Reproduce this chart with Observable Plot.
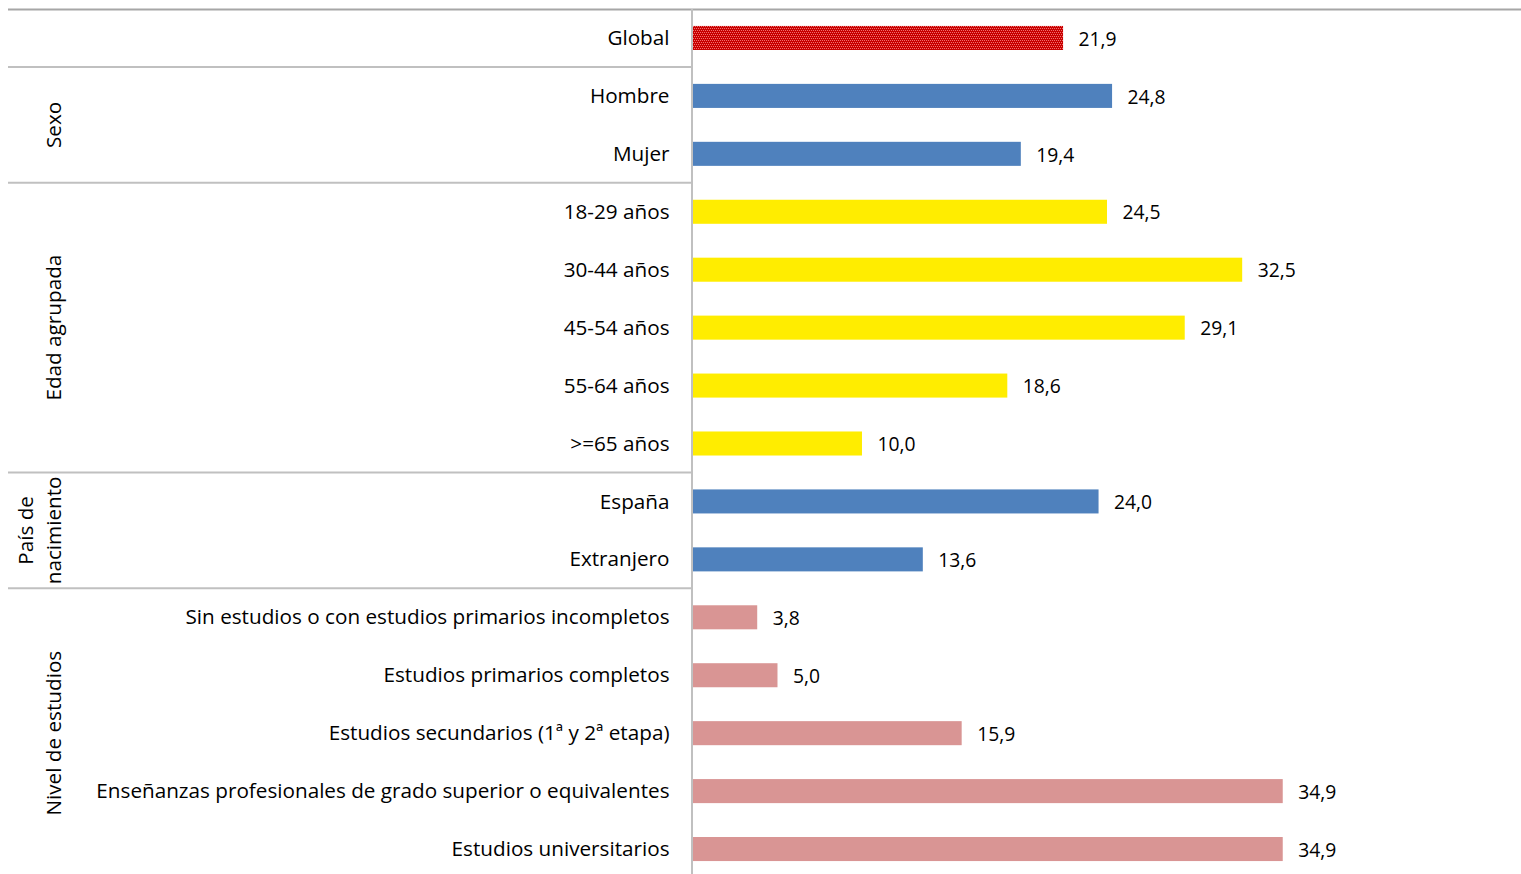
<!DOCTYPE html>
<html><head><meta charset="utf-8">
<script src="https://cdn.jsdelivr.net/npm/d3@7"></script>
<script src="https://cdn.jsdelivr.net/npm/@observablehq/plot@0.6"></script>
<style>
html,body{margin:0;padding:0;background:#fff;overflow:hidden}
</style></head>
<body><div id="chart"></div>
<script>
const categories = ["Global","Hombre","Mujer","18-29 años","30-44 años","45-54 años","55-64 años",">=65 años","España","Extranjero","Sin estudios o con estudios primarios incompletos","Estudios primarios completos","Estudios secundarios (1ª y 2ª etapa)","Enseñanzas profesionales de grado superior o equivalentes","Estudios universitarios"];
const values = [21.9,24.8,19.4,24.5,32.5,29.1,18.6,10.0,24.0,13.6,3.8,5.0,15.9,34.9,34.9];
const groups = ["Global","Sexo","Sexo","Edad agrupada","Edad agrupada","Edad agrupada","Edad agrupada","Edad agrupada","País de nacimiento","País de nacimiento","Nivel de estudios","Nivel de estudios","Nivel de estudios","Nivel de estudios","Nivel de estudios"];
const groupLabels = [
  {group:"Sexo", lines:["Sexo"]},
  {group:"Edad agrupada", lines:["Edad agrupada"]},
  {group:"País de nacimiento", lines:["País de","nacimiento"]},
  {group:"Nivel de estudios", lines:["Nivel de estudios"]}
];
const groupColors = {"Global":"url(#globalPat)","Sexo":"#4F81BD","Edad agrupada":"#FFED00","País de nacimiento":"#4F81BD","Nivel de estudios":"#D99594"};

const data = categories.map((c,i)=>({cat:c, value:values[i], group:groups[i], color:groupColors[groups[i]]}));
const fmt = v => v.toFixed(1).replace(".", ",");
const FONT = "'Open Sans', sans-serif";

const W = 1521, H = 874;
const plot = Plot.plot({
  width: W, height: H,
  marginLeft: 693, marginRight: 0, marginTop: 9, marginBottom: 0,
  style: {fontFamily: FONT, background: "#fff"},
  x: {domain:[0,49], range:[693,1521], axis:null},
  y: {domain: categories, range:[9,878], paddingInner:0.585, paddingOuter:0.2925, round:false, label:null},
  color: {type:"identity"},
  marks: [
    Plot.barX(data, {y:"cat", x:"value", fill:"color"}),
    Plot.text(data, {y:"cat", x:"value", text:d=>fmt(d.value), dx:15, dy:1, textAnchor:"start", fontSize:19.3, fill:"#000"}),
    Plot.axisY({tickSize:0, tickPadding:24, fontSize:20.7, anchor:"left", label:null})
  ]
});

const svg = d3.select(plot);
svg.style("overflow","visible");
const defs = svg.insert("defs",":first-child");
const pat = defs.append("pattern").attr("id","globalPat").attr("patternUnits","userSpaceOnUse").attr("width",4).attr("height",4);
pat.append("rect").attr("width",4).attr("height",4).attr("fill","#C80000");
[[0,0],[2,0],[1,2],[3,2]].forEach(([px,py]) => pat.append("rect").attr("x",px).attr("y",py).attr("width",1).attr("height",1).attr("fill","#F07070"));
svg.selectAll("text").attr("fill","#000").style("fill","#000");

// band geometry from Plot's y scale
const yd = plot.scale("y");
const band = d3.scaleBand().domain(yd.domain).range(yd.range).paddingInner(yd.paddingInner ?? 0.585).paddingOuter(yd.paddingOuter ?? 0.2925);
const step = band.step();
const rowTop = c => band(c) - (step - band.bandwidth())/2;
const xd = plot.scale("x");
const x0 = xd.range[0];

const g = svg.append("g");
g.append("line").attr("x1",8).attr("x2",W).attr("y1",rowTop(categories[0])+0.5).attr("y2",rowTop(categories[0])+0.5).attr("stroke","#A6A6A6").attr("stroke-width",2);
const firsts = [...new Set(groups)].slice(1).map(gr => categories[groups.indexOf(gr)]);
firsts.forEach(c => {
  g.append("line").attr("x1",8).attr("x2",x0-1).attr("y1",rowTop(c)).attr("y2",rowTop(c)).attr("stroke","#C0C0C0").attr("stroke-width",2);
});
g.append("line").attr("x1",x0-1).attr("x2",x0-1).attr("y1",rowTop(categories[0])).attr("y2",H+5).attr("stroke","#C0C0C0").attr("stroke-width",2);
groupLabels.forEach(gl => {
  const idx = groups.map((gg,i)=>gg===gl.group?i:-1).filter(i=>i>=0);
  const y1 = rowTop(categories[idx[0]]), y2 = rowTop(categories[idx[idx.length-1]]) + step;
  const cy = (y1+y2)/2;
  const n = gl.lines.length;
  gl.lines.forEach((line,k)=>{
    const cx = 55 - (n-1-k)*28;
    g.append("text").attr("transform",`translate(${cx},${cy}) rotate(-90)`)
      .attr("text-anchor","middle").attr("dominant-baseline","middle")
      .attr("font-family",FONT).attr("font-size",20.7).attr("fill","#000").text(line);
  });
});
document.getElementById("chart").appendChild(plot);
</script></body></html>
